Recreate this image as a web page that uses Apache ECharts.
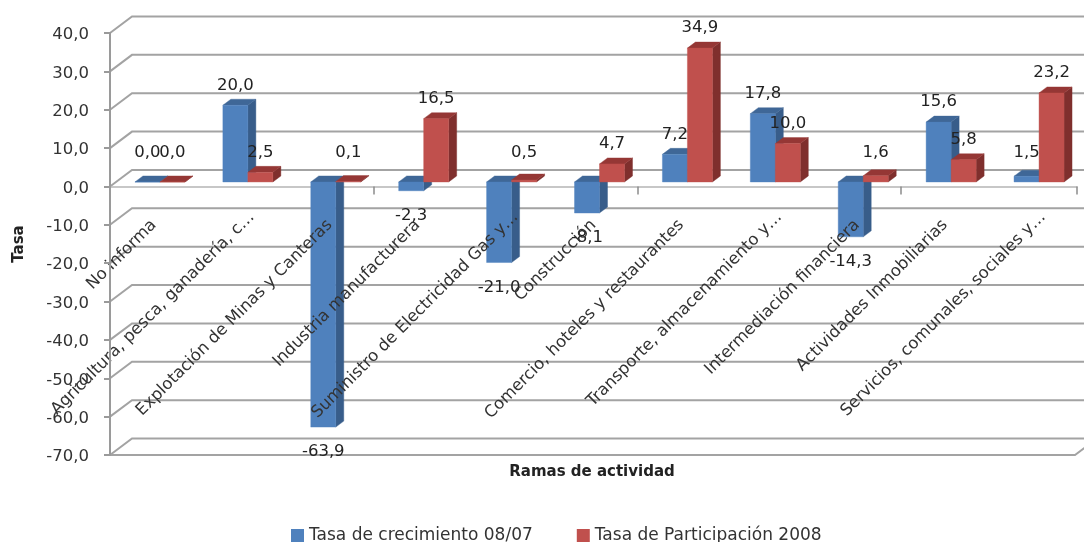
<!DOCTYPE html>
<html>
<head>
<meta charset="utf-8">
<style>html,body{margin:0;padding:0;background:#fff;overflow:hidden}#c{width:1084px;height:542px}</style>
<script src="https://cdn.jsdelivr.net/npm/echarts@6/dist/echarts.min.js"></script>
</head>
<body>
<div id="c"></div>
<script>
const categories = ["No informa","Agricultura, pesca, ganadería, c…","Explotación de Minas y Canteras","Industria manufacturera","Suministro de Electricidad Gas y…","Construcción","Comercio, hoteles y restaurantes","Transporte, almacenamiento y…","Intermediación financiera","Actividades Inmobiliarias","Servicios, comunales, sociales y…"];
const growth = [0.0,20.0,-63.9,-2.3,-21.0,-8.1,7.2,17.8,-14.3,15.6,1.5];
const share = [0.0,2.5,0.1,16.5,0.5,4.7,34.9,10.0,1.6,5.8,23.2];
const yTicks = [-70,-60,-50,-40,-30,-20,-10,0,10,20,30,40];
const seriesNames = ["Tasa de crecimiento 08/07","Tasa de Participación 2008"];

const FONT = 'DejaVu Sans';
const fmt = v => v.toFixed(1).replace('.', ',');
const WALL = [22, -16.5], SHIFT = [6, -4.5], DEPTH = [8, -6], BAR_W = 25;

function poly(points, fill, z2) {
  return {type:'polygon', shape:{points}, style:{fill, stroke:fill, lineWidth:0.4}, z2: z2||0};
}
function barRender(slot, colors) {
  return function (params, api) {
    const cat = api.value(0), v = api.value(1);
    const c = api.coord([cat, v]), o = api.coord([cat, 0]);
    const x0 = c[0] + SHIFT[0] + slot * BAR_W, x1 = x0 + BAR_W;
    const y0 = o[1] + SHIFT[1], yv = c[1] + SHIFT[1];
    const top = Math.min(y0, yv), bot = Math.max(y0, yv);
    const dx = DEPTH[0], dy = DEPTH[1];
    const labelY = v >= 0 ? Math.min(top - 20, o[1] - 34) : bot + 25;
    return {type:'group', children:[
      poly([[x1,top],[x1+dx,top+dy],[x1+dx,bot+dy],[x1,bot]], colors[2]),
      poly([[x0,top],[x0+dx,top+dy],[x1+dx,top+dy],[x1,top]], colors[1]),
      poly([[x0,top],[x1,top],[x1,bot],[x0,bot]], colors[0]),
      {type:'text', z2:100, style:{x:(x0+x1)/2, y:labelY, text:fmt(v), align:'center', verticalAlign:'middle', fill:'#222', fontFamily:FONT, fontSize:16.5}}
    ]};
  };
}
function wallRender(params, api) {
  const v = api.value(1), p = api.coord([0, v]), band = api.size([1, 0])[0];
  const left = p[0] - band/2, right = api.coord([categories.length-1, v])[0] + band/2;
  const line = {stroke:'#a3a3a3', lineWidth:2, fill:'none'};
  const kids = [{type:'polyline', shape:{points:[[left,p[1]],[left+WALL[0],p[1]+WALL[1]],[right+WALL[0],p[1]+WALL[1]]]}, style:line}];
  if (v === yTicks[0]) {
    kids.push({type:'polyline', shape:{points:[[left,p[1]],[right-2,p[1]],[right-2+WALL[0],p[1]+WALL[1]]]}, style:line});
  }
  return {type:'group', children:kids};
}
function categoryLabelRender(params, api) {
  const i = api.value(0), o = api.coord([i, 0]), name = categories[i];
  const cut = name.endsWith('…');
  return {type:'text', x:o[0] + (cut ? 10 : 0), y:o[1] + (cut ? 28 : 36), rotation:Math.PI/4,
    style:{text:name, align:'right', verticalAlign:'middle', fill:'#333', fontFamily:FONT, fontSize:16.5}};
}

const chart = echarts.init(document.getElementById('c'));
chart.setOption({
  animation:false,
  backgroundColor:'#fff',
  title:{text:'Ramas de actividad', left:592, top:465, textAlign:'center', padding:0,
    textStyle:{fontFamily:FONT, fontWeight:'bold', fontSize:15, color:'#222'}},
  legend:{show:true, data:seriesNames, left:291, top:527, padding:0, itemWidth:13, itemHeight:13, itemGap:44, icon:'rect',
    textStyle:{fontFamily:FONT, fontSize:17, color:'#333'}},
  grid:{left:110, right:7, top:33, bottom:87, containLabel:false, outerBoundsMode:'none'},
  xAxis:{type:'category', data:categories, z:2,
    axisLine:{onZero:true, lineStyle:{color:'#b5b5b5', width:1.5}},
    axisTick:{show:true, length:8, alignWithLabel:false, lineStyle:{color:'#8c8c8c', width:1.5}},
    axisLabel:{show:false},
    splitLine:{show:false}},
  yAxis:{type:'value', min:-70, max:40, interval:10, z:5,
    name:'Tasa', nameLocation:'middle', nameGap:83, nameRotate:90, nameMoveOverlap:false,
    nameTextStyle:{fontFamily:FONT, fontWeight:'bold', fontSize:15, color:'#222'},
    axisLine:{show:true, onZero:false, lineStyle:{color:'#9a9a9a', width:2}},
    axisTick:{show:true, length:6, lineStyle:{color:'#9a9a9a', width:2}},
    axisLabel:{margin:21, verticalAlign:'top', lineHeight:4, fontFamily:FONT, fontSize:16.5, color:'#333', formatter:v=>fmt(v)},
    splitLine:{show:false}},
  series:[
    {type:'custom', name:'pared', silent:true, z:1, clip:false, renderItem:wallRender, encode:{x:0,y:1},
      data:yTicks.map(v=>[0,v])},
    {type:'custom', name:seriesNames[0], z:3, clip:false, itemStyle:{color:'#4f81bd'}, encode:{x:0,y:1},
      renderItem:barRender(-1,['#4f81bd','#3f6797','#385d8a']), data:growth.map((v,i)=>[i,v])},
    {type:'custom', name:seriesNames[1], z:3, clip:false, itemStyle:{color:'#c0504d'}, encode:{x:0,y:1},
      renderItem:barRender(0,['#c0504d','#953735','#7f2f2d']), data:share.map((v,i)=>[i,v])},
    {type:'custom', name:'etiquetas', silent:true, z:4, clip:false, encode:{x:0,y:1},
      renderItem:categoryLabelRender, data:categories.map((c,i)=>[i,0])}
  ]
});
</script>
</body>
</html>
